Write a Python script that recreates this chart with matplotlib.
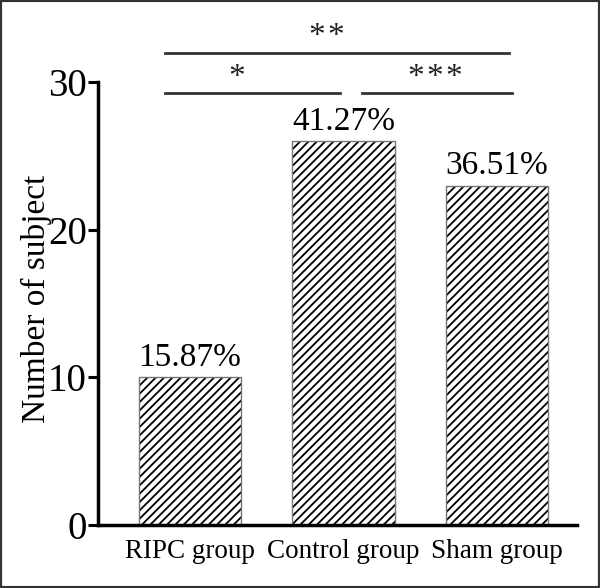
import matplotlib
matplotlib.use("Agg")
import matplotlib.pyplot as plt
from matplotlib.patches import Rectangle

plt.rcParams['font.family'] = ['Liberation Serif', 'DejaVu Serif']
plt.rcParams['hatch.linewidth'] = 1.3

groups = ["RIPC group", "Control group", "Sham group"]
counts = [10, 26, 23]
percents = ["15.87%", "41.27%", "36.51%"]
# significance bars: line start, line end, height / star x, star y, count
sig_lines = [(-0.163, 0.976, 29.26), (1.12, 2.095, 29.26), (-0.163, 2.08, 31.96)]
sig_stars = [(0.306, 30.3, 1), (1.594, 30.3, 3), (0.885, 33.05, 2)]
star_gap = 0.124

fig = plt.figure(figsize=(6, 5.88), dpi=100)
ax = fig.add_axes([0.1633, 0.1071, 0.798, 0.753])

x = range(len(groups))
# hatch in black, outline in grey drawn on top
ax.bar(x, counts, width=0.67, color="white", edgecolor="black",
       linewidth=0, hatch="////")
ax.bar(x, counts, width=0.67, fill=False, edgecolor="#777777", linewidth=1.0)

for i, (c, p) in enumerate(zip(counts, percents)):
    ax.text(i, c + 0.3, p, ha="center", va="bottom", fontsize=24)

for x0, x1, h in sig_lines:
    ax.plot([x0, x1], [h, h], color="#333333", lw=2, clip_on=False)
for sx, sy, n in sig_stars:
    for k in range(n):
        ax.text(sx + (k - (n - 1) / 2) * star_gap, sy, "*", ha="center",
                va="center", fontsize=24, color="#222222", clip_on=False)

ax.set_xlim(-0.6, 2.52)
ax.set_ylim(0, 30)
ax.set_yticks([0, 10, 20, 30])
ax.set_xticks(list(x))
ax.set_xticklabels(groups, fontsize=19.5)
ax.tick_params(axis="y", labelsize=28, length=7, width=2.2, pad=1)
ax.tick_params(axis="x", length=0, pad=10)
ax.set_ylabel("Number of subject", fontsize=24)
ax.yaxis.set_label_coords(-0.097, 0.51)
for side in ("top", "right"):
    ax.spines[side].set_visible(False)
for side in ("left", "bottom"):
    ax.spines[side].set_linewidth(2.5)

fig.patches.append(Rectangle((0, 0), 1, 1, transform=fig.transFigure,
                             fill=False, edgecolor="#333333", linewidth=3))

fig.savefig("out.png", dpi=100)
